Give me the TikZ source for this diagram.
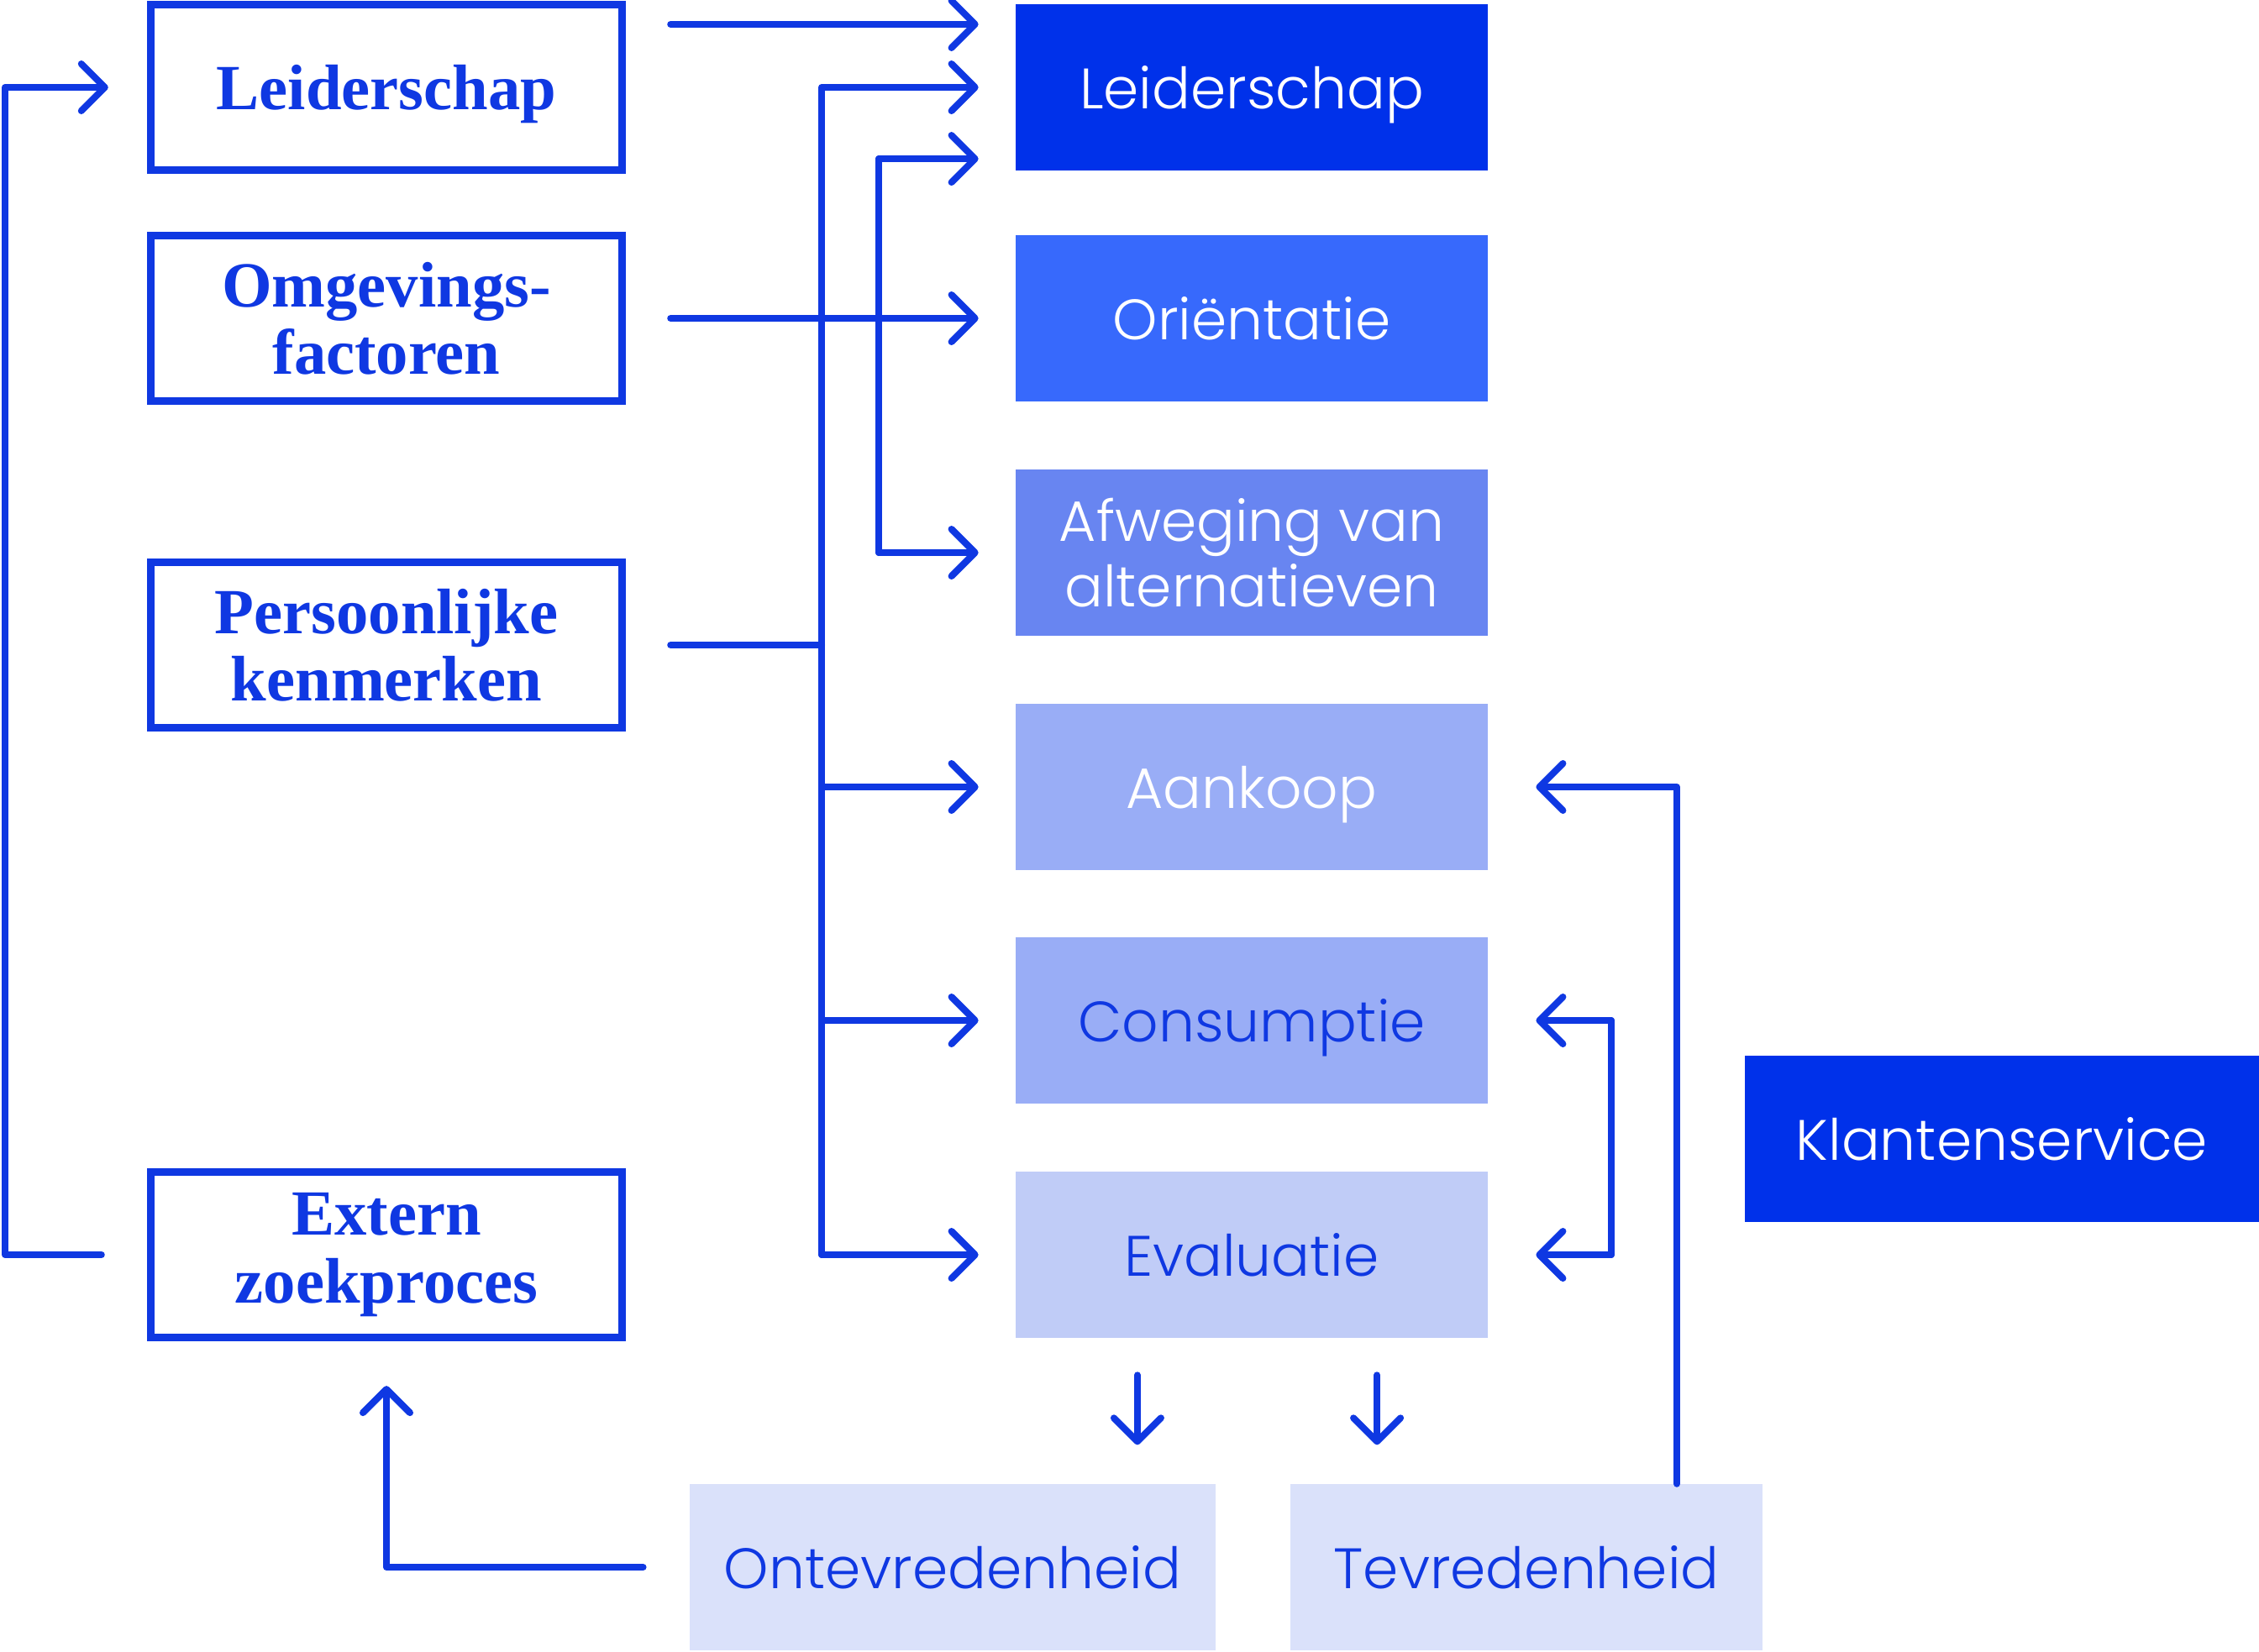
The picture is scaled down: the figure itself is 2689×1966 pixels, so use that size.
\documentclass[tikz,border=0pt]{standalone}
\usepackage{fontspec}
\usepackage{tikz}
\usetikzlibrary{arrows.meta,positioning}

\newfontfamily\srcfont{Liberation Serif}
\newfontfamily\procfont{Poppins Light}

\definecolor{lineblue}{HTML}{0F38E2}
\definecolor{deepblue}{HTML}{0031EA}
\definecolor{midblue}{HTML}{3769FC}
\definecolor{softblue}{HTML}{6885F1}
\definecolor{paleblue}{HTML}{99ADF6}
\definecolor{lightblue}{HTML}{C0CCF7}
\definecolor{faintblue}{HTML}{DAE1FA}

\begin{document}
\begin{tikzpicture}[x=0.01cm,y=-0.01cm,
    srcbox/.style={draw=lineblue, line width=.09cm, minimum width=5.61cm, minimum height=1.97cm,
        inner sep=0pt, align=center, text=lineblue, font=\srcfont\bfseries\fontsize{21.8}{22.8}\selectfont},
    procbox/.style={fill=#1, minimum width=5.61cm, minimum height=1.97cm, inner sep=0pt,
        align=center, text=white, font=\procfont\fontsize{19.3}{22.2}\selectfont},
    oneline/.style={text depth=0pt},
    link/.style={draw=lineblue, line width=.08cm, line cap=round, line join=round},
    arr/.style={link, -{Straight Barb[length=.28cm,width=.56cm,round]}}]
    \useasboundingbox (0,0) rectangle (2689,1966);

    % Influences (left column)
    \node [srcbox, oneline] (lead) at (460,104) {Leiderschap};
    \node [srcbox] (env) at (460,379) {Omgevings-\\factoren};
    \node [srcbox] (pers) at (460,768) {Persoonlijke\\kenmerken};
    \node [srcbox] (ext) at (460,1494) {Extern\\zoekproces};

    % Decision stages
    \node [procbox=deepblue, oneline] (rlead) at (1490,104) {Leiderschap};
    \node [procbox=midblue, oneline] (orient) at (1490,379) {Oriëntatie};
    \node [procbox=softblue] (afw) at (1490,658) {Afweging van\\alternatieven};
    \node [procbox=paleblue, oneline] (aank) at (1490,937) {Aankoop};
    \node [procbox=paleblue, oneline, text=lineblue] (cons) at (1490,1215) {Consumptie};
    \node [procbox=lightblue, oneline, text=lineblue] (eval) at (1490,1494) {Evaluatie};
    \node [procbox=faintblue, oneline, text=lineblue, minimum width=6.25cm] (ontev) at (1134,1866) {Ontevredenheid};
    \node [procbox=faintblue, oneline, text=lineblue] (tevr) at (1817,1866) {Tevredenheid};
    \node [procbox=deepblue, oneline, minimum width=6.12cm] (klant) at (2383,1356) {Klantenservice};

    % Lines into the stages
    \coordinate (busA) at (978,0);
    \coordinate (busB) at (1046,0);
    \coordinate (inB) at ([yshift=-.85cm]rlead.west);
    \draw [arr] ([xshift=.53cm,yshift=.75cm]lead.east) -- ([xshift=-.44cm,yshift=.75cm]rlead.west);
    \draw [arr] ([xshift=.53cm]env.east) -- ([xshift=-.44cm]orient.west);
    \draw [link] ([xshift=.53cm]pers.east) -- (busA |- pers.east);
    \draw [arr] (busA |- eval.west) -- (busA |- rlead.west) -- ([xshift=-.44cm]rlead.west);
    \foreach \stage in {aank,cons,eval}
        \draw [arr] (busA |- \stage.west) -- ([xshift=-.44cm]\stage.west);
    \draw [arr] (busB |- afw.west) -- (busB |- inB) -- ([xshift=-.44cm]inB);
    \draw [arr] (busB |- inB) -- (busB |- afw.west) -- ([xshift=-.44cm]afw.west);

    % Outcome of the evaluation
    \draw [arr] ([xshift=-1.36cm,yshift=-.44cm]eval.south) -- ([xshift=-1.36cm,yshift=-1.27cm]eval.south);
    \draw [arr] ([xshift=1.49cm,yshift=-.44cm]eval.south) -- ([xshift=1.49cm,yshift=-1.27cm]eval.south);

    % Feedback loops
    \coordinate (edge) at (6,0);
    \coordinate (retA) at (1996,0);
    \coordinate (retB) at (1918,0);
    \draw [arr] ([xshift=-.54cm]ext.west) -- (edge |- ext.west) -- (edge |- lead.west) -- ([xshift=-.46cm]lead.west);
    \draw [arr] ([xshift=-.55cm]ontev.west) -| ([yshift=-.53cm]ext.south);
    \draw [arr] (retA |- tevr.north) -- (retA |- aank.east) -- ([xshift=.57cm]aank.east);
    \draw [arr] (retB |- eval.east) -- (retB |- cons.east) -- ([xshift=.57cm]cons.east);
    \draw [arr] (retB |- cons.east) -- (retB |- eval.east) -- ([xshift=.57cm]eval.east);
\end{tikzpicture}
\end{document}
